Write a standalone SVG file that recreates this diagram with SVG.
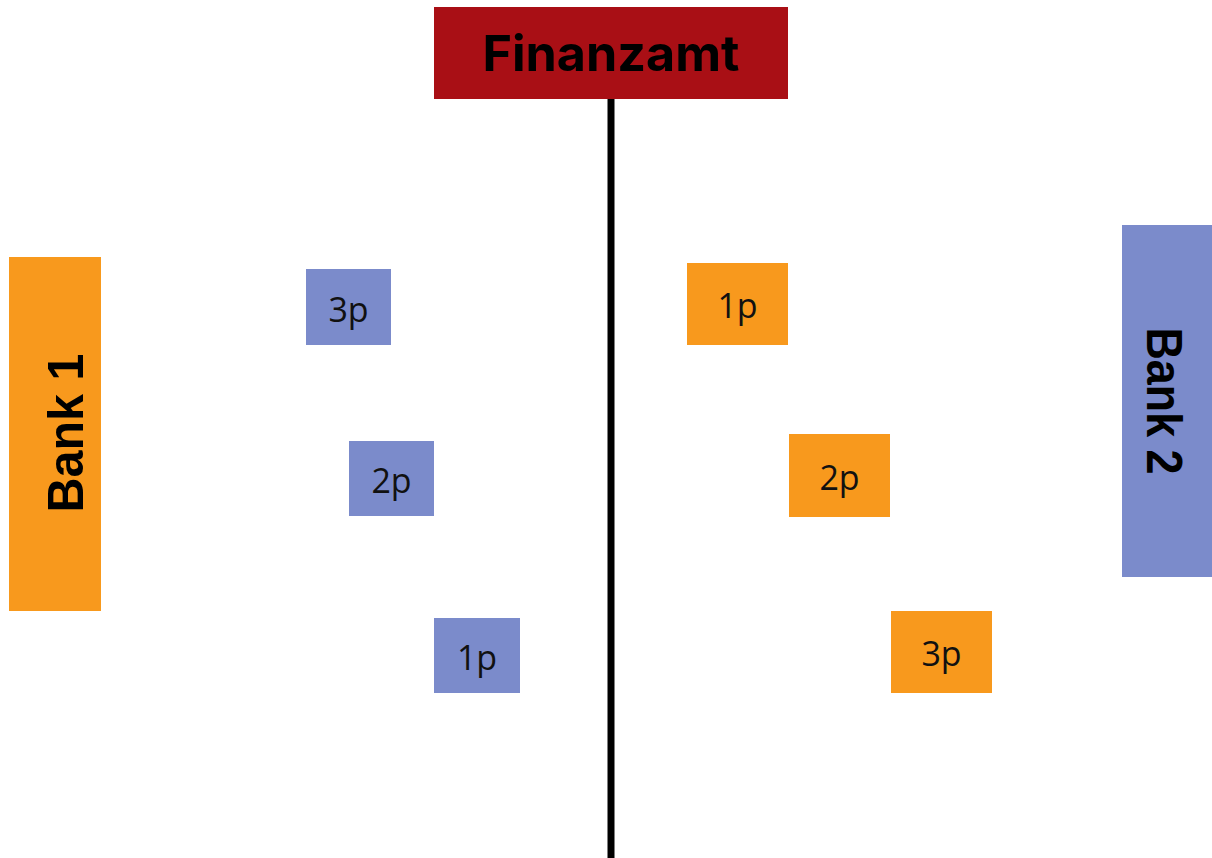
<svg xmlns="http://www.w3.org/2000/svg" width="1212" height="858" viewBox="0 0 1212 858">
<style>
.orange{fill:#F8991D}
.blue{fill:#7B8BCB}
.red{fill:#A90F15}
.small{font-family:"Open Sans","Noto Sans",sans-serif;font-size:34px;fill:#111;text-anchor:middle}
.bank{font-family:"Liberation Sans",Arial,sans-serif;font-weight:bold;font-size:50px;fill:#000;text-anchor:middle}
.title{font-family:Inter,"Open Sans",sans-serif;font-weight:bold;font-size:50px;fill:#000;text-anchor:middle}
</style>
<rect width="1212" height="858" fill="#fff"/>
<g id="connectors">
<line x1="611" y1="99" x2="611" y2="858" stroke="#000" stroke-width="7"/>
</g>
<g id="finanzamt">
<rect class="red" x="434" y="7" width="354" height="92"/>
<text class="title" x="611" y="71" textLength="257" lengthAdjust="spacingAndGlyphs">Finanzamt</text>
</g>
<g id="bank1">
<rect class="orange" x="9" y="257" width="92" height="354"/>
<text class="bank" transform="translate(83,433) rotate(-90)" textLength="159" lengthAdjust="spacingAndGlyphs">Bank 1</text>
</g>
<g id="bank2">
<rect class="blue" x="1122" y="225" width="90" height="352"/>
<text class="bank" transform="translate(1147,401) rotate(90)" textLength="147" lengthAdjust="spacingAndGlyphs">Bank 2</text>
</g>
<g id="b1-3p">
<rect class="blue" x="306" y="269" width="85" height="76"/>
<text class="small" x="348.5" y="322">3p</text>
</g>
<g id="b1-2p">
<rect class="blue" x="349" y="441" width="85" height="75"/>
<text class="small" x="391.5" y="493">2p</text>
</g>
<g id="b1-1p">
<rect class="blue" x="434" y="618" width="86" height="75"/>
<text class="small" x="477" y="670">1p</text>
</g>
<g id="b2-1p">
<rect class="orange" x="687" y="263" width="101" height="82"/>
<text class="small" x="737.5" y="318">1p</text>
</g>
<g id="b2-2p">
<rect class="orange" x="789" y="434" width="101" height="83"/>
<text class="small" x="839.5" y="490">2p</text>
</g>
<g id="b2-3p">
<rect class="orange" x="891" y="611" width="101" height="82"/>
<text class="small" x="941.5" y="666">3p</text>
</g>
</svg>
